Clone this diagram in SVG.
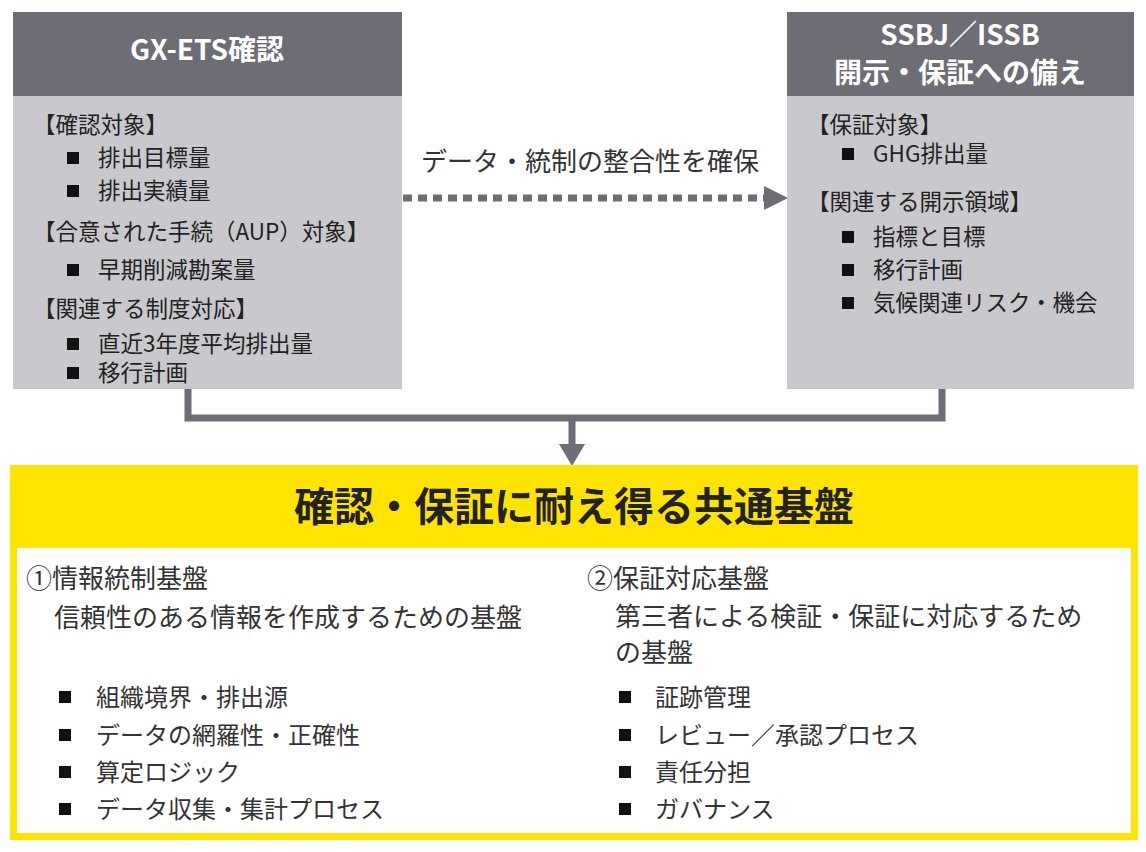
<svg xmlns="http://www.w3.org/2000/svg" width="1146" height="852" viewBox="0 0 1146 852">
<style>
text{font-family:"Noto Sans CJK JP","Noto Sans",sans-serif;fill:#222}
.hd{fill:#fff;font-weight:bold;font-size:28px;text-anchor:middle}
.t{font-size:22.5px}
.b{font-size:24px;fill:#333}
.s{font-size:26px;fill:#333}
.bl{fill:#111}
</style>
<rect width="1146" height="852" fill="#fff"/>
<g id="connectors" fill="none" stroke="#6d6d75">
<line x1="403" y1="198" x2="768" y2="198" stroke-width="7" stroke-dasharray="9,6"/>
<polygon points="764,186 788,198 764,210" fill="#6d6d75" stroke="none"/>
<polyline points="188,389 188,418 942,418 942,389" stroke-width="7"/>
<line x1="572" y1="418" x2="572" y2="446" stroke-width="7"/>
<polygon points="559,444 585,444 572,466" fill="#6d6d75" stroke="none"/>
<text x="590" y="171" class="s" text-anchor="middle" stroke="none">データ・統制の整合性を確保</text>
</g>
<g id="gxets">
<rect x="13" y="12" width="389" height="377" fill="#c9c9cd"/>
<rect x="13" y="12" width="389" height="84" fill="#6d6d75"/>
<text x="207" y="60" class="hd">GX-ETS確認</text>
<text x="33" y="133" class="t">【確認対象】</text>
<rect x="67" y="152" width="12" height="12" class="bl"/><text x="98" y="166" class="t">排出目標量</text>
<rect x="67" y="185" width="12" height="12" class="bl"/><text x="98" y="199" class="t">排出実績量</text>
<text x="33" y="240" class="t">【合意された手続（AUP）対象】</text>
<rect x="67" y="264" width="12" height="12" class="bl"/><text x="98" y="278" class="t">早期削減勘案量</text>
<text x="33" y="317" class="t">【関連する制度対応】</text>
<rect x="67" y="338" width="12" height="12" class="bl"/><text x="98" y="352" class="t">直近3年度平均排出量</text>
<rect x="67" y="367" width="12" height="12" class="bl"/><text x="98" y="381" class="t">移行計画</text>
</g>
<g id="ssbj">
<rect x="787" y="12" width="347" height="377" fill="#c9c9cd"/>
<rect x="787" y="12" width="347" height="84" fill="#6d6d75"/>
<text x="960" y="45" class="hd">SSBJ／ISSB</text>
<text x="960" y="83" class="hd">開示・保証への備え</text>
<text x="807" y="133" class="t">【保証対象】</text>
<rect x="842" y="148" width="12" height="12" class="bl"/><text x="873" y="162" class="t">GHG排出量</text>
<text x="807" y="210" class="t">【関連する開示領域】</text>
<rect x="842" y="231" width="12" height="12" class="bl"/><text x="873" y="245" class="t">指標と目標</text>
<rect x="842" y="264" width="12" height="12" class="bl"/><text x="873" y="278" class="t">移行計画</text>
<rect x="842" y="297" width="12" height="12" class="bl"/><text x="873" y="311" class="t">気候関連リスク・機会</text>
</g>
<g id="base">
<rect x="10" y="465" width="1128" height="375" fill="#ffe400"/>
<rect x="17" y="548" width="1114" height="285" fill="#fff"/>
<text x="574" y="521" font-size="40" font-weight="bold" text-anchor="middle">確認・保証に耐え得る共通基盤</text>
<text x="26" y="588" class="s">①情報統制基盤</text>
<text x="54" y="627" class="s">信頼性のある情報を作成するための基盤</text>
<rect x="59" y="691" width="12" height="12" class="bl"/><text x="96" y="706" class="b">組織境界・排出源</text>
<rect x="59" y="729" width="12" height="12" class="bl"/><text x="96" y="744" class="b">データの網羅性・正確性</text>
<rect x="59" y="766" width="12" height="12" class="bl"/><text x="96" y="781" class="b">算定ロジック</text>
<rect x="59" y="803" width="12" height="12" class="bl"/><text x="96" y="818" class="b">データ収集・集計プロセス</text>
<text x="587" y="588" class="s">②保証対応基盤</text>
<text x="615" y="626" class="s">第三者による検証・保証に対応するため</text>
<text x="615" y="662" class="s">の基盤</text>
<rect x="619" y="691" width="12" height="12" class="bl"/><text x="655" y="706" class="b">証跡管理</text>
<rect x="619" y="729" width="12" height="12" class="bl"/><text x="655" y="744" class="b">レビュー／承認プロセス</text>
<rect x="619" y="766" width="12" height="12" class="bl"/><text x="655" y="781" class="b">責任分担</text>
<rect x="619" y="803" width="12" height="12" class="bl"/><text x="655" y="818" class="b">ガバナンス</text>
</g>
</svg>
